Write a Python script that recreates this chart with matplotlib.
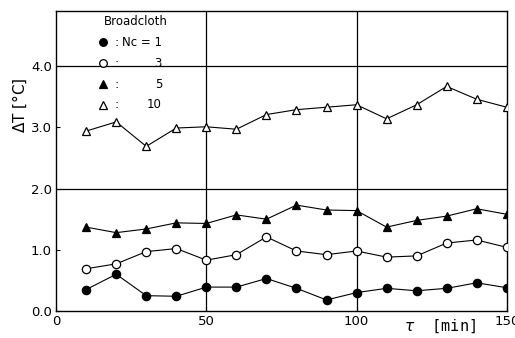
import numpy as np
import matplotlib
matplotlib.use("Agg")
import matplotlib.pyplot as plt

tau = [10, 20, 30, 40, 50, 60, 70, 80, 90, 100, 110, 120, 130, 140, 150]
dt_nc1 = [0.35, 0.60, 0.25, 0.24, 0.39, 0.39, 0.53, 0.37, 0.18, 0.30, 0.37, 0.33, 0.37, 0.46, 0.38]
dt_nc3 = [0.69, 0.77, 0.97, 1.02, 0.83, 0.92, 1.21, 0.98, 0.92, 0.98, 0.88, 0.90, 1.11, 1.16, 1.04]
dt_nc5 = [1.37, 1.28, 1.34, 1.44, 1.43, 1.57, 1.50, 1.73, 1.65, 1.64, 1.37, 1.48, 1.55, 1.67, 1.58]
dt_nc10 = [2.94, 3.09, 2.69, 2.99, 3.01, 2.97, 3.21, 3.29, 3.33, 3.37, 3.14, 3.37, 3.67, 3.46, 3.33]

series = [
    ("1", dt_nc1, "o", "black"),
    ("3", dt_nc3, "o", "white"),
    ("5", dt_nc5, "^", "black"),
    ("10", dt_nc10, "^", "white"),
]

fig = plt.figure(figsize=(5.15, 3.38), dpi=100)
ax = fig.add_axes([0.109, 0.080, 0.875, 0.887])

for name, vals, mk, fc in series:
    ax.plot(tau, vals, color="black", lw=0.8, marker=mk, ms=6,
            mfc=fc, mec="black", mew=0.9, zorder=3)

ax.set_xlim(0, 150)
ax.set_ylim(0, 4.9)
ax.set_xticks([0, 50, 100, 150])
ax.set_yticks([0, 1, 2, 3, 4])
ax.set_yticklabels(["0.0", "1.0", "2.0", "3.0", "4.0"])
ax.tick_params(direction="in", length=3, labelsize=9.5, pad=3)

for x in [50, 100]:
    ax.axvline(x, color="black", lw=0.9, zorder=1)
for y in [2.0, 4.0]:
    ax.axhline(y, color="black", lw=0.9, zorder=1)
for s in ax.spines.values():
    s.set_linewidth(1.0)

# legend drawn by hand, as in the original figure
ax.text(0.105, 0.965, "Broadcloth", transform=ax.transAxes, fontsize=8.5,
        ha="left", va="center")
rows = [("Nc = 1", "o", "black"), ("3", "o", "white"),
        ("5", "^", "black"), ("10", "^", "white")]
for i, (lab, mk, fc) in enumerate(rows):
    yy = 0.897 - i * 0.07
    ax.plot([0.105], [yy], marker=mk, ms=5.5, mfc=fc, mec="black", mew=0.9,
            transform=ax.transAxes, clip_on=False)
    ax.text(0.135, yy, ":", transform=ax.transAxes, fontsize=9, ha="center", va="center")
    ax.text(0.235, yy, lab, transform=ax.transAxes, fontsize=8.5, ha="right", va="center")

fig.text(0.038, 0.69, r"$\Delta$T [°C]", rotation=90, fontsize=11,
         ha="center", va="center")
fig.text(0.855, 0.035, r"$\tau$  [min]", fontsize=11, ha="center", va="center",
         family="DejaVu Sans Mono")

fig.savefig("out.png", dpi=100)
